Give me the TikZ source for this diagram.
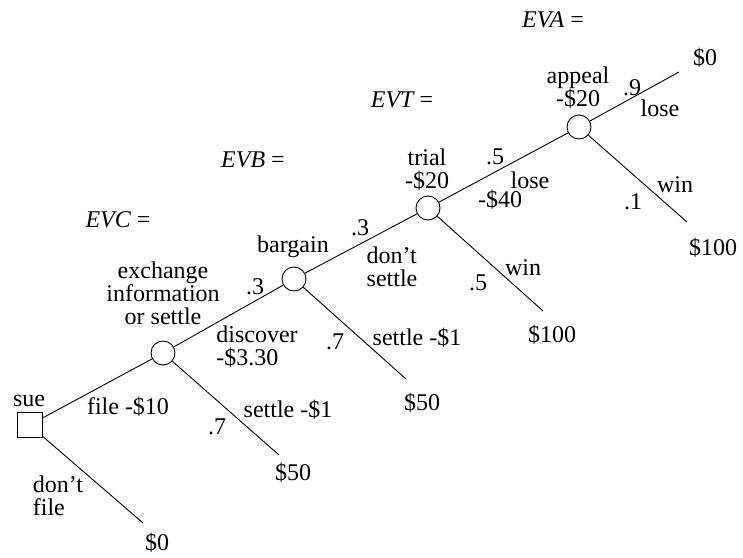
\documentclass[tikz,border=0pt]{standalone}
\usepackage{fontspec}
\setmainfont{Liberation Serif}
\usetikzlibrary{positioning}
\tikzset{
  every node/.style={font=\fontsize{24}{23}\selectfont, inner sep=0pt},
  decision/.style={draw, minimum size=25pt, inner sep=0pt},
  chance/.style={draw, circle, minimum size=24pt, inner sep=0pt},
  branch/.style={line width=0.9pt},
}

\begin{document}
\begin{tikzpicture}[x=1pt, y=-1pt]
\useasboundingbox (0,0) rectangle (743,557);

% decision and chance nodes
\node[decision, line width=0.9pt] (sue) at (29.5,425) {};
\node[chance, line width=0.9pt] (exch) at (163,353) {};
\node[chance, line width=0.9pt] (barg) at (294,279) {};
\node[chance, line width=0.9pt] (trial) at (428,208) {};
\node[chance, line width=0.9pt] (appeal) at (579,127) {};

% branch ends
\coordinate (endNofile) at (143,523);
\coordinate (endExch) at (279,455);
\coordinate (endBarg) at (406,379);
\coordinate (endTrial) at (543,311);
\coordinate (endWin) at (687,222);
\coordinate (endLose) at (679,72);

\draw[branch] (sue) -- (exch);
\draw[branch] (sue) -- (endNofile);
\draw[branch] (exch) -- (barg);
\draw[branch] (exch) -- (endExch);
\draw[branch] (barg) -- (trial);
\draw[branch] (barg) -- (endBarg);
\draw[branch] (trial) -- (appeal);
\draw[branch] (trial) -- (endTrial);
\draw[branch] (appeal) -- (endLose);
\draw[branch] (appeal) -- (endWin);

% sue
\node (sueLbl) at (29,401) {sue};
\node (fileLbl) at (128,407) {file -\$10};
\node[align=left] (nofileLbl) at (58,496) {don't\\file};
\node (payNofile) at (157,543) {\$0};

% exchange information
\node (evcLbl) at (118,220) {{\itshape EVC} =};
\node[align=center] (exchLbl) at (163,293) {exchange\\information\\or settle};
\node (pExchUp) at (255,287) {.3};
\node[align=left] (discLbl) at (257,347) {discover\\-\$3.30};
\node (pExchDn) at (217,427) {.7};
\node (settleA) at (288,410) {settle -\$1};
\node (payExch) at (293,473) {\$50};

% bargain
\node (evbLbl) at (253,160) {{\itshape EVB} =};
\node (bargLbl) at (293,247) {bargain};
\node (pBargUp) at (360,228) {.3};
\node[align=left] (nosettleLbl) at (392,267) {don't\\settle};
\node (pBargDn) at (335,342) {.7};
\node (settleB) at (417,338) {settle -\$1};
\node (payBarg) at (422,403) {\$50};

% trial
\node (evtLbl) at (402,100) {{\itshape EVT} =};
\node[align=center] (trialLbl) at (427,170) {trial\\-\$20};
\node (pTrialUp) at (495,157) {.5};
\node (loseA) at (530,180) {lose};
\node (costLose) at (500,200) {-\$40};
\node (pTrialDn) at (478,283) {.5};
\node (winA) at (523,268) {win};
\node (payTrial) at (552,335) {\$100};

% appeal
\node (evaLbl) at (553,20) {{\itshape EVA} =};
\node[align=center] (appealLbl) at (578,88) {appeal\\-\$20};
\node (pAppUp) at (632,88) {.9};
\node (loseB) at (660,108) {lose};
\node (pAppDn) at (633,202) {.1};
\node (winB) at (675,185) {win};
\node (payLose) at (705,58) {\$0};
\node (payWin) at (713,248) {\$100};
\end{tikzpicture}
\end{document}
